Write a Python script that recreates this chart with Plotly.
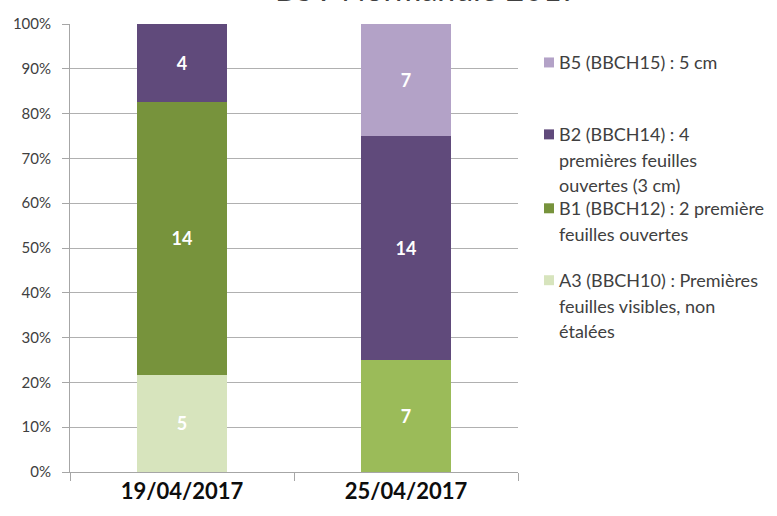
import plotly.graph_objects as go

# ---- data ----
categories = ["19/04/2017", "25/04/2017"]
series_names = [
    "A3 (BBCH10) : Premières feuilles visibles, non étalées",
    "Stade intermédiaire",
    "B1 (BBCH12) : 2 première feuilles ouvertes",
    "B2 (BBCH14) : 4 premières feuilles ouvertes (3 cm)",
    "B5 (BBCH15) : 5 cm",
]
series_values = [
    [5, 0],
    [0, 7],
    [14, 0],
    [4, 14],
    [0, 7],
]
series_colors = ["#D7E4BD", "#9BBB59", "#77933C", "#604A7B", "#B3A2C7"]
series_in_legend = [True, False, True, True, True]
legend_lines = [
    ["A3 (BBCH10) : Premières", "feuilles visibles, non", "étalées"],
    [],
    ["B1 (BBCH12) : 2 première", "feuilles ouvertes"],
    ["B2 (BBCH14) : 4", "premières feuilles", "ouvertes (3 cm)"],
    ["B5 (BBCH15) : 5 cm"],
]
y_ticks = [i / 10 for i in range(11)]
title_text = "BSV Normandie 2017"

FONT = "Lato"
W, H = 777, 516
L, R, T, B = 70, 518, 23.5, 472  # plot area in pixels

fig = go.Figure()
for name, vals, col in zip(series_names, series_values, series_colors):
    fig.add_trace(go.Bar(
        x=categories, y=vals, name=name,
        marker=dict(color=col, line=dict(width=0)),
        text=[str(v) if v else "" for v in vals],
        textposition="inside", insidetextanchor="middle",
        textfont=dict(family=FONT, size=18, color="white", weight="bold"),
        showlegend=False, hoverinfo="name+y",
    ))

def px_to_paper_x(px):
    return (px - L) / (R - L)

def px_to_paper_y(py):
    return (B - py) / (B - T)

shapes = []
annotations = []
# manual legend (top to bottom: B5, B2, B1, A3)
first_line_y = {4: 62, 3: 134, 2: 208, 0: 280}
line_h = 25.5
for idx, y0 in first_line_y.items():
    if not series_in_legend[idx]:
        continue
    shapes.append(dict(
        type="rect", xref="paper", yref="paper",
        x0=px_to_paper_x(544), x1=px_to_paper_x(554),
        y0=px_to_paper_y(y0 - 5), y1=px_to_paper_y(y0 + 5),
        fillcolor=series_colors[idx], line=dict(width=0), layer="above",
    ))
    for k, line in enumerate(legend_lines[idx]):
        annotations.append(dict(
            text=line, xref="paper", yref="paper",
            x=px_to_paper_x(557), y=px_to_paper_y(y0 + k * line_h),
            xanchor="left", yanchor="middle", showarrow=False,
            font=dict(family=FONT, size=18, color="#404040"),
        ))

annotations.append(dict(
    text=title_text, xref="paper", yref="paper",
    x=px_to_paper_x(427), y=px_to_paper_y(9),
    xanchor="center", yanchor="bottom", showarrow=False,
    font=dict(family=FONT, size=32, color="#404040"),
))

fig.update_layout(
    width=W, height=H,
    margin=dict(l=L, r=W - R, t=T, b=H - B, pad=0),
    barmode="stack", barnorm="fraction", bargap=0.6,
    plot_bgcolor="white", paper_bgcolor="white",
    showlegend=False,
    shapes=shapes, annotations=annotations,
    font=dict(family=FONT),
)
fig.update_yaxes(
    range=[0, 1], tickvals=y_ticks, tickformat=".0%",
    showgrid=True, gridcolor="#B0B0B0", gridwidth=1,
    showline=True, linecolor="#A6A6A6", linewidth=1,
    ticks="outside", ticklen=7, tickcolor="#A6A6A6",
    tickfont=dict(family=FONT, size=15, color="#404040"),
    ticklabelstandoff=8, zeroline=False,
)
fig.update_xaxes(
    range=[-0.5, 1.5], type="category",
    showline=True, linecolor="#A6A6A6", linewidth=1,
    ticks="outside", ticklen=8, tickcolor="#A6A6A6", tickson="boundaries",
    tickfont=dict(family=FONT, size=22, color="#0D0D0D", weight="bold"),
    showgrid=False,
)

fig.write_html("out.html")
